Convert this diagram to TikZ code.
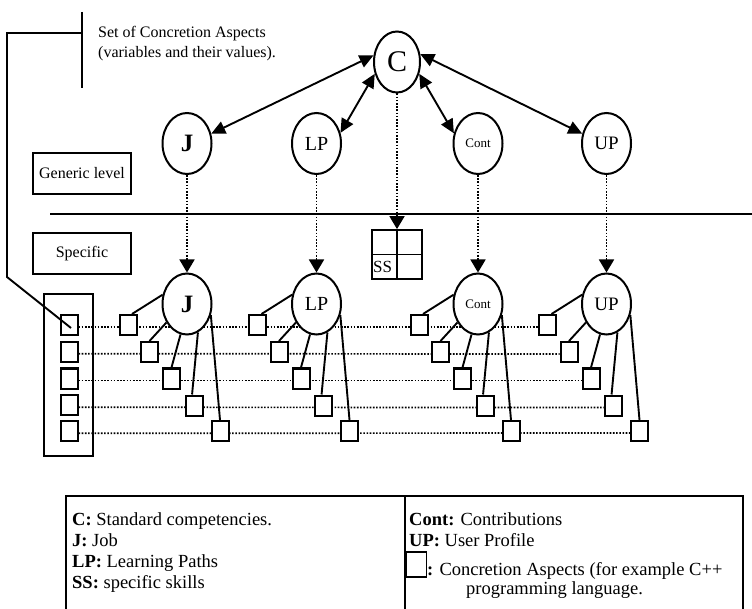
\documentclass[tikz,border=0pt]{standalone}
\usepackage{fontspec}
\setmainfont{Liberation Serif}
\usetikzlibrary{arrows.meta,backgrounds,calc,shapes.geometric}
\begin{document}
\begin{tikzpicture}[x=1pt,y=-1pt,
 ell/.style={draw,ellipse,fill=white,line width=2pt,minimum width=49pt,minimum height=61pt,inner sep=0pt},
 sq/.style={draw,line width=2pt,fill=white,minimum width=17pt,minimum height=20pt,inner sep=0pt},
 lvl/.style={draw,line width=1.8pt,minimum width=98pt,minimum height=41pt,inner sep=0pt,font=\fontsize{16}{19}\selectfont},
 dbl/.style={{Triangle[length=14pt,width=13pt]}-{Triangle[length=14pt,width=13pt]},line width=1.9pt},
 dotarr/.style={-{Triangle[length=13pt,width=15pt]},line width=1.8pt,dash pattern=on 1.6pt off 1.6pt},
 dotln/.style={line width=1.7pt,dash pattern=on 1.6pt off 1.6pt},
 link/.style={line width=1.9pt},
 frame/.style={line width=1.8pt},
 lg/.style={anchor=base west,inner sep=0pt,font=\fontsize{18.5}{22}\selectfont},
 note/.style={anchor=base west,inner sep=0pt,font=\fontsize{16}{19}\selectfont},
]
\useasboundingbox (0,0) rectangle (752,609);

% top node
\node[ell,minimum width=46pt] (C) at (397,62) {\fontsize{30}{30}\selectfont C};

% generic level
\node[ell] (gJ)  at (187,143.5)   {\fontsize{25}{25}\selectfont\bfseries J};
\node[ell] (gLP) at (316.5,143.5) {\fontsize{20}{20}\selectfont LP};
\node[ell] (gC)  at (478,143.5)   {\fontsize{13}{13}\selectfont Cont};
\node[ell] (gU)  at (606.5,143.5) {\fontsize{19}{19}\selectfont UP};

% specific level
\node[ell] (sJ)  at (187,304)   {\fontsize{25}{25}\selectfont\bfseries J};
\node[ell] (sLP) at (316.5,304) {\fontsize{20}{20}\selectfont LP};
\node[ell] (sC)  at (478,304)   {\fontsize{13}{13}\selectfont Cont};
\node[ell] (sU)  at (606.5,304) {\fontsize{19}{19}\selectfont UP};

% arrows from C
\draw[dbl] (C.164) -- (gJ.22);
\draw[dbl] (C.208) -- (gLP.24);
\draw[dbl] (C.332) -- (gC.157);
\draw[dbl] (C.19)  -- (gU.158);

% separator
\coordinate (sepL) at (50,214);
\coordinate (sepR) at (752,214);
\draw[link] (sepL) -- (sepR);

% SS grid
\node[draw,frame,minimum width=50pt,minimum height=49pt,inner sep=0pt] (SSg) at (397,254.5) {};
\draw[frame] (SSg.north) -- (SSg.south) (SSg.west) -- (SSg.east);
\node[anchor=base west,inner sep=0pt,font=\fontsize{17}{17}\selectfont] (SS) at (373,273) {SS};

% dotted vertical arrows
\draw[dotarr] (C.south) -- (SSg.north);
\draw[dotarr] (gJ.south) -- (sJ.north);
\draw[dotarr] (gLP.south) -- (sLP.north);
\draw[dotarr] (gC.south) -- (sC.north);
\draw[dotarr] (gU.south) -- (sU.north);

% level boxes
\node[lvl] (gen) at (82,173.5) {Generic level};
\node[lvl] (spe) at (82,253.5) {Specific};

% left column
\node[draw,frame,minimum width=49pt,minimum height=162pt,inner sep=0pt] (col) at (68.5,375) {};
\foreach \i/\yy in {1/325,2/351.7,3/378.5,4/405.3,5/431.3}
  \node[sq] (L\i) at (69,\yy) {};

% tree squares
\foreach \t/\cx in {J/187,LP/316.5,C/478,U/606.5} {
  \foreach \i/\dx/\yy in {1/-59/325,2/-37.5/352,3/-15.5/378.5,4/7/405.5,5/33/431} {
    \node[sq] (\t\i) at ({\cx+(\dx)},\yy) {};
  }
}

% tree links
\foreach \t in {J,LP,C,U} {
  \draw[link] (s\t.159) -- (\t1.70);
  \draw[link] (s\t.222) -- (\t2.north);
  \draw[link] (s\t.258) -- (\t3.north);
  \draw[link] (s\t.291) -- (\t4.100);
  \draw[link] (s\t.335) -- (\t5.north);
}

% dotted row lines
\begin{pgfonlayer}{background}
\foreach \i in {1,...,5}
  \draw[dotln] ([yshift=-2pt]L\i.east) -- ([yshift=-2pt]U\i.west);
\end{pgfonlayer}

% bracket and note
\coordinate (brT) at (81.7,12);
\coordinate (brB) at (81.7,88);
\coordinate (brM) at (81.7,33);
\coordinate (k1) at (7,33);
\coordinate (k2) at (7,277);
\draw[link] (brT) -- (brB);
\draw[link] (brM) -- (k1) -- (k2) -- ([shift={(2pt,-3pt)}]L1.center);
\node[note] (t1) at (98,37.7) {Set of Concretion Aspects};
\node[note] (t2) at (98,57.3) {(variables and their values).};

% legend
\coordinate (f1) at (66,612);
\coordinate (f2) at (66,496);
\coordinate (f3) at (743,496);
\coordinate (f4) at (743,612);
\coordinate (d1) at (405,496);
\coordinate (d2) at (405,612);
\draw[frame] (f1) -- (f2) -- (f3) -- (f4);
\draw[frame] (d1) -- (d2);
\node[lg] (lgC)  at (72,525) {\textbf{C:} Standard competencies.};
\node[lg] (lgJ)  at (72,546) {\textbf{J:} Job};
\node[lg] (lgLP) at (72,567) {\textbf{LP:} Learning Paths};
\node[lg] (lgSS) at (72,588) {\textbf{SS:} specific skills};
\node[lg] (lgCo) at (409,525) {\textbf{Cont:} Contributions};
\node[lg] (lgUP) at (409,546) {\textbf{UP:} User Profile};
\node[draw,frame,minimum width=20pt,minimum height=25pt,inner sep=0pt] (lgSq) at (416.5,564.5) {};
\node[lg] (lgCA) at (427,575) {\textbf{:} Concretion Aspects (for example C++};
\node[lg] (lgPL) at (466,594) {programming language.};
\end{tikzpicture}
\end{document}
